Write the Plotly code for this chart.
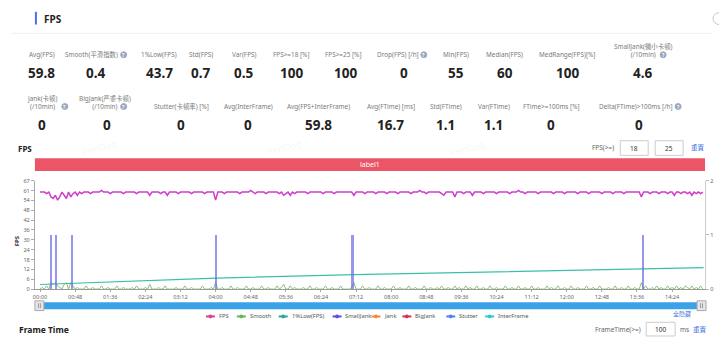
import plotly.graph_objects as go

W, H = 719, 339
FONT = "Noto Sans, Noto Sans CJK SC, sans-serif"

# ---------------- data ----------------
row1_labels = ["Avg(FPS)", "Smooth(平滑指数)", "1%Low(FPS)", "Std(FPS)", "Var(FPS)", "FPS>=18 [%]",
               "FPS>=25 [%]", "Drop(FPS) [/h]", "Min(FPS)", "Median(FPS)", "MedRange(FPS)[%]",
               "SmallJank(微小卡顿)<br>(/10min)"]
row1_values = ["59.8", "0.4", "43.7", "0.7", "0.5", "100", "100", "0", "55", "60", "100", "4.6"]
row2_labels = ["Jank(卡顿)<br>(/10min)", "BigJank(严重卡顿)<br>(/10min)", "Stutter(卡顿率) [%]",
               "Avg(InterFrame)", "Avg(FPS+InterFrame)", "Avg(FTime) [ms]", "Std(FTime)",
               "Var(FTime)", "FTime>=100ms [%]", "Delta(FTime)>100ms [/h]"]
row2_values = ["0", "0", "0", "0", "59.8", "16.7", "1.1", "1.1", "0", "0"]

time_labels = ["00:00", "00:48", "01:36", "02:24", "03:12", "04:00", "04:48", "05:36", "06:24",
               "07:12", "08:00", "08:48", "09:36", "10:24", "11:12", "12:00", "12:48", "13:36", "14:24"]
tick_seconds = [0, 48, 96, 144, 192, 240, 288, 336, 384, 432, 480, 528, 576, 624, 672, 720, 768, 816, 864]
y_ticktext = ["0", "6", "12", "18", "24", "30", "36", "42", "48", "54", "61", "67"]

# samples every 3 s
fps_values = [
    60, 60, 60, 59, 60, 57, 56, 58, 55, 57, 60, 58, 56, 60, 57, 59, 60, 58, 60, 59,
    60, 60, 60, 59, 60, 60, 60, 60, 61, 60, 60, 60, 59, 60, 60, 60, 60, 60, 59, 60,
    60, 60, 60, 60, 59, 60, 60, 60, 60, 60, 58, 60, 60, 60, 60, 59, 60, 60, 58, 60,
    60, 60, 60, 59, 60, 60, 60, 60, 60, 59, 60, 60, 60, 60, 60, 59, 60, 60, 60, 60,
    55, 60, 60, 60, 59, 60, 60, 60, 60, 60, 60, 59, 60, 60, 60, 60, 61, 60, 59, 60,
    60, 60, 60, 59, 60, 60, 60, 60, 60, 59, 60, 58, 59, 60, 58, 60, 59, 60, 60, 60,
    60, 60, 59, 60, 60, 60, 60, 60, 60, 59, 60, 60, 60, 60, 59, 60, 60, 60, 60, 60,
    60, 60, 60, 58, 60, 60, 60, 60, 59, 60, 60, 60, 60, 59, 60, 60, 60, 60, 59, 60,
    60, 60, 60, 59, 60, 60, 60, 60, 60, 59, 60, 60, 60, 61, 60, 60, 59, 60, 60, 60,
    60, 60, 60, 59, 58, 60, 60, 60, 60, 57, 60, 60, 60, 59, 60, 60, 60, 58, 60, 60,
    60, 60, 59, 60, 60, 60, 60, 60, 59, 60, 60, 60, 60, 60, 59, 60, 60, 60, 61, 60,
    60, 59, 60, 60, 60, 60, 60, 59, 60, 60, 60, 60, 60, 60, 59, 60, 60, 60, 60, 59,
    60, 60, 60, 60, 60, 59, 60, 60, 60, 60, 59, 60, 60, 60, 60, 60, 59, 60, 60, 60,
    60, 59, 60, 60, 60, 60, 59, 60, 60, 60, 60, 60, 60, 60, 57, 60, 60, 60, 59, 60,
    60, 60, 59, 60, 60, 60, 59, 60, 60, 58, 60, 60, 59, 60, 60, 59, 60, 58, 60, 59,
    60, 59, 60,
]
smooth_values = [
    0, 1, 0, 2, 0, 4, 3, 4, 2, 1, 0, 3, 4, 0, 4, 2, 0, 1, 0, 0,
    0, 2, 0, 0, 1, 0, 0, 0, 2, 0, 0, 1, 0, 0, 0, 2, 0, 0, 1, 0,
    0, 0, 1, 0, 2, 0, 0, 0, 1, 0, 3, 0, 0, 0, 1, 0, 0, 2, 0, 0,
    0, 0, 1, 0, 0, 0, 2, 0, 0, 1, 0, 0, 0, 0, 2, 0, 0, 0, 1, 0,
    4, 0, 0, 1, 0, 0, 0, 2, 0, 0, 1, 0, 0, 0, 2, 0, 0, 1, 0, 0,
    0, 2, 0, 0, 1, 0, 0, 0, 2, 0, 1, 3, 0, 0, 2, 0, 1, 0, 0, 0,
    1, 0, 0, 2, 0, 0, 1, 0, 0, 0, 2, 0, 0, 1, 0, 0, 0, 2, 0, 0,
    0, 0, 1, 4, 0, 0, 0, 2, 0, 0, 1, 0, 0, 0, 2, 0, 0, 1, 0, 0,
    0, 2, 0, 0, 1, 0, 0, 0, 2, 0, 0, 1, 0, 0, 0, 2, 0, 0, 1, 0,
    0, 1, 0, 2, 0, 0, 1, 0, 0, 2, 0, 1, 0, 0, 2, 0, 1, 0, 0, 2,
    0, 0, 1, 0, 0, 2, 0, 0, 1, 0, 0, 0, 2, 0, 0, 1, 0, 0, 2, 0,
    0, 1, 0, 0, 2, 0, 0, 1, 0, 0, 0, 2, 0, 1, 0, 0, 2, 0, 0, 1,
    0, 0, 2, 0, 0, 1, 0, 0, 0, 2, 0, 0, 1, 0, 0, 2, 0, 0, 0, 1,
    0, 0, 2, 0, 0, 1, 0, 0, 2, 0, 0, 1, 0, 0, 4, 0, 2, 0, 0, 1,
    0, 2, 0, 1, 0, 0, 2, 0, 1, 0, 2, 0, 1, 0, 2, 1, 0, 2, 0, 1,
    0, 2, 0,
]
sample_seconds = [3 * i for i in range(len(fps_values))]

low_seconds = [0, 241, 429, 684, 824, 907]
low_values = [2.85, 6.8, 8.9, 11.3, 12.7, 13.3]

smalljank_seconds = [15, 22, 43, 241, 427, 824]
smalljank_values = [1, 1, 1, 1, 1, 1]

legend_names = ["FPS", "Smooth", "1%Low(FPS)", "SmallJank", "Jank", "BigJank", "Stutter", "InterFrame"]
legend_colors = ["#d6409f", "#5cb85c", "#26a69a", "#5a4fdc", "#f5873a", "#d9304a", "#4f7ff0", "#2ec7c9"]

# ---------------- layout helpers (pixel positions) ----------------
anns, shapes = [], []


def px(x):
    return x / W


def py(y):
    return 1 - y / H


def text(x, y, s, size=7.5, color="#666666", bold=False, xanchor="center", angle=0):
    anns.append(dict(x=px(x), y=py(y), xref="paper", yref="paper",
                     text=f"<b>{s}</b>" if bold else s, showarrow=False,
                     font=dict(size=size, color=color, family=FONT),
                     xanchor=xanchor, yanchor="middle", textangle=angle))


def rect(x0, y0, x1, y1, fill, line=None, lw=0):
    shapes.append(dict(type="rect", xref="paper", yref="paper",
                       x0=px(x0), x1=px(x1), y0=py(y1), y1=py(y0),
                       fillcolor=fill, line=dict(color=line or fill, width=lw), layer="above"))


def line(x0, y0, x1, y1, color, w=1):
    shapes.append(dict(type="line", xref="paper", yref="paper",
                       x0=px(x0), x1=px(x1), y0=py(y0), y1=py(y1),
                       line=dict(color=color, width=w), layer="above"))


def circle(x, y, r, fill, line_c=None):
    shapes.append(dict(type="circle", xref="paper", yref="paper",
                       x0=px(x - r), x1=px(x + r), y0=py(y + r), y1=py(y - r),
                       fillcolor=fill, line=dict(color=line_c or fill, width=1), layer="above"))


def info(x, y):
    circle(x, y, 3.0, "#9aa7bf")
    text(x, y + 0.3, "?", size=4.8, color="white", bold=True)


LAB = 6.4
LABC = "#7a7a7a"

# header
rect(33, 8, 35, 21, "#4a6cf7")
text(40, 15, "FPS", size=10, color="#222222", bold=True, xanchor="left")
line(10, 30, 712, 30, "#eeeeee")
circle(719, 15, 6, "rgba(0,0,0,0)", "#c8c8c8")

# stats rows
r1_x = [40, 90, 157, 200, 243, 290, 342, 397, 455, 504, 567, 643]
r1_vx = [40, 94, 158, 200, 243, 290, 344, 403, 455, 504, 567, 643]
for i, (lab, val) in enumerate(zip(row1_labels, row1_values)):
    text(r1_x[i], 47.5 if "<br>" in lab else 52, lab, size=LAB, color=LABC)
    text(r1_vx[i], 71, val, size=13.5, color="#222222", bold=True)
info(122, 52)
info(423, 52)
info(663, 52)

r2_x = [40, 103, 180, 247, 317, 390, 445, 493, 551, 636]
r2_vx = [40, 105, 179, 247, 317, 390, 445, 493, 551, 639]
for i, (lab, val) in enumerate(zip(row2_labels, row2_values)):
    text(r2_x[i], 100.5 if "<br>" in lab else 105, lab, size=LAB, color=LABC)
    text(r2_vx[i], 124, val, size=13.5, color="#222222", bold=True)
info(63, 105)
info(122, 105)
info(678, 105)

# chart header
text(14, 148, "FPS", size=8, color="#222222", bold=True, xanchor="left")
text(603, 147, "FPS(>=)", size=6.5)
rect(620, 140, 648, 155, "white", "#cccccc", 1)
text(634, 147.5, "18", size=6.5, color="#333333")
rect(655, 140, 683, 155, "white", "#cccccc", 1)
text(669, 147.5, "25", size=6.5, color="#333333")
text(698, 147, "重置", size=6.5, color="#3a6fe0")

# watermarks
for (wx, wy) in [(98, 147), (283, 147), (467, 148)]:
    text(wx, wy, "PerfDog", size=9, color="rgba(0,0,0,0.07)", angle=-15)

# label bar
rect(33, 158, 705, 171, "#ea5567")
text(369, 164.5, "label1", size=7, color="white")

# axis title
text(15, 242, "FPS", size=6, color="#333333", bold=True, angle=-90)

# slider
rect(38, 305.5, 705, 312.5, "#3ba2e8")
rect(33, 304, 42, 314, "#e6e6e6", "#aaaaaa", 1)
line(36.5, 306.5, 36.5, 311.5, "#888888", 0.8)
line(38.5, 306.5, 38.5, 311.5, "#888888", 0.8)
rect(697, 304, 706, 314, "#e6e6e6", "#aaaaaa", 1)
line(700.5, 306.5, 700.5, 311.5, "#888888", 0.8)
line(702.5, 306.5, 702.5, 311.5, "#888888", 0.8)

# legend
leg_icon_x = [209, 240, 282, 336, 375, 406, 450, 489]
leg_text_x = [216, 247, 289, 342, 381, 412, 456, 495]
for i, name in enumerate(legend_names):
    line(leg_icon_x[i] - 4.5, 320, leg_icon_x[i] + 4.5, 320, legend_colors[i], 2)
    circle(leg_icon_x[i], 320, 1.5, legend_colors[i])
    text(leg_text_x[i], 320, name, size=5.8, color="#555555", xanchor="left")
text(682, 318, "全隐藏", size=6, color="#3a6fe0")

# bottom header
text(15, 333, "Frame Time", size=8.5, color="#222222", bold=True, xanchor="left")
text(618, 333, "FrameTime(>=)", size=6.5)
rect(646, 326, 675, 340, "white", "#cccccc", 1)
text(660, 333, "100", size=6.5, color="#333333")
text(684, 333, "ms", size=6.5)
text(700, 333, "重置", size=6.5, color="#3a6fe0")

# ---------------- traces ----------------
fig = go.Figure()
fig.add_trace(go.Scatter(x=sample_seconds, y=smooth_values, mode="lines",
                         line=dict(color="#8cbf78", width=1), name="Smooth"))
fig.add_trace(go.Scatter(x=low_seconds, y=low_values, mode="lines",
                         line=dict(color="#3bbfa6", width=1.2), name="1%Low(FPS)"))
fig.add_trace(go.Scatter(x=sample_seconds, y=fps_values, mode="lines",
                         line=dict(color="#cc3fc9", width=1.5), name="FPS"))
fig.add_trace(go.Bar(x=smalljank_seconds, y=smalljank_values, width=2.8, yaxis="y2",
                     marker=dict(color="rgba(105,105,230,0.7)", line=dict(width=0)), name="SmallJank"))

ax_font = dict(size=5.6, color="#666666", family=FONT)
fig.update_layout(
    width=W, height=H, margin=dict(l=0, r=0, t=0, b=0),
    paper_bgcolor="white", plot_bgcolor="white", showlegend=False,
    annotations=anns, shapes=shapes, bargap=0,
    xaxis=dict(domain=[33 / W, 705 / W], range=[-7, 909], tickvals=tick_seconds, ticktext=time_labels,
               tickfont=ax_font, ticks="outside", ticklen=2, tickcolor="#aaaaaa",
               showline=True, linecolor="#9a9a90", linewidth=1.2, showgrid=False, zeroline=False),
    yaxis=dict(domain=[1 - 292 / H, 1 - 181 / H], range=[0, 67],
               tickvals=[i * 67 / 11 for i in range(12)], ticktext=y_ticktext,
               tickfont=ax_font, ticks="outside", ticklen=3, tickcolor="#aaaaaa",
               showline=True, linecolor="#aaaaaa", showgrid=False, zeroline=False),
    yaxis2=dict(overlaying="y", side="right", range=[0, 2], tickvals=[0, 1, 2],
                tickfont=ax_font, ticks="outside", ticklen=3, tickcolor="#bbbbbb",
                showline=True, linecolor="#cccccc", showgrid=False, zeroline=False),
)
fig.write_html("out.html")
